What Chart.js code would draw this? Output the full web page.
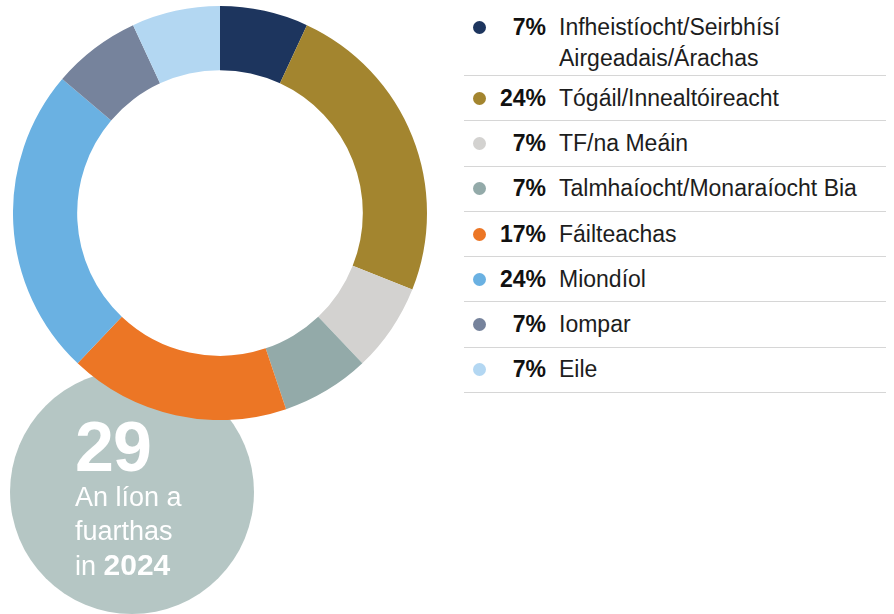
<!DOCTYPE html>
<html>
<head>
<meta charset="utf-8">
<script src="https://cdn.jsdelivr.net/npm/chart.js@4"></script>
<style>
  html, body { margin: 0; padding: 0; background: #fff; }
  body { width: 894px; height: 614px; position: relative; overflow: hidden;
         font-family: "Liberation Sans", Arial, sans-serif; }
  #bubble { position: absolute; left: 10px; top: 370px; width: 244px; height: 244px;
            border-radius: 50%; background: #b5c6c4; }
  #bubbleText { position: absolute; left: 75px; top: 414px; color: #fff; font-size: 27px; line-height: 34px; }
  #bubbleText .big { font-size: 70px; font-weight: bold; line-height: 66px; letter-spacing: -1px; }
  #bubbleText b { font-size: 30px; }
  #wrap { position: absolute; left: 13px; top: 6px; width: 414px; height: 414px; }
  #legend { position: absolute; left: 464px; top: 0; width: 422px; margin: 0; padding: 0; list-style: none; }
  #legend li { box-sizing: border-box; height: 45.3px; display: flex; align-items: center;
               border-bottom: 1px solid #d6d6d6; font-size: 23px; line-height: 31px; color: #1d1d1d; }
  #legend li.first { height: 76px; align-items: flex-start; padding-top: 12px; }
  #legend .dot { width: 13px; height: 13px; border-radius: 50%; margin-left: 9px; flex: none; }
  #legend li.first .dot { margin-top: 9px; }
  #legend .pct { width: 60px; text-align: right; font-weight: bold; flex: none; margin-left: 0; color: #111; }
  #legend .lbl { margin-left: 13px; }
</style>
</head>
<body>
<div id="bubble"></div>
<div id="wrap"><canvas id="donut" width="414" height="414"></canvas></div>
<div id="bubbleText">
  <div class="big">29</div>
  <div>An líon a</div>
  <div>fuarthas</div>
  <div>in <b>2024</b></div>
</div>
<ul id="legend"></ul>

<script>
// earnáil / líon / dath
const labels = [
    'Infheistíocht/Seirbhísí<br>Airgeadais/Árachas',
    'Tógáil/Innealtóireacht',
    'TF/na Meáin',
    'Talmhaíocht/Monaraíocht Bia',
    'Fáilteachas',
    'Miondíol',
    'Iompar',
    'Eile'
];
const counts = [2, 7, 2, 2, 5, 7, 2, 2];
const percents = ['7%', '24%', '7%', '7%', '17%', '24%', '7%', '7%'];
const colors = ['#1d355e', '#a3852f', '#d3d2d0', '#93aaa9', '#ec7625', '#6ab1e2', '#76839c', '#b3d7f2'];

// legend
const ul = document.getElementById('legend');
labels.forEach((lab, i) => {
    const li = document.createElement('li');
    if (i === 0) li.className = 'first';
    li.innerHTML = `<span class="dot" style="background:${colors[i]}"></span>` +
                   `<span class="pct">${percents[i]}</span>` +
                   `<span class="lbl">${lab}</span>`;
    ul.appendChild(li);
});

// doughnut
const ctx = document.getElementById('donut').getContext('2d');
const chart = new Chart(ctx, {
    type: 'doughnut',
    data: {
        labels: labels,
        datasets: [{
            data: counts,
            backgroundColor: colors,
            borderWidth: 0
        }]
    },
    options: {
        responsive: false,
        devicePixelRatio: 1,
        animation: false,
        cutout: '69%',
        layout: { padding: 0 },
        plugins: {
            legend: { display: false },
            tooltip: { enabled: false }
        }
    }
});
</script>
</body>
</html>
